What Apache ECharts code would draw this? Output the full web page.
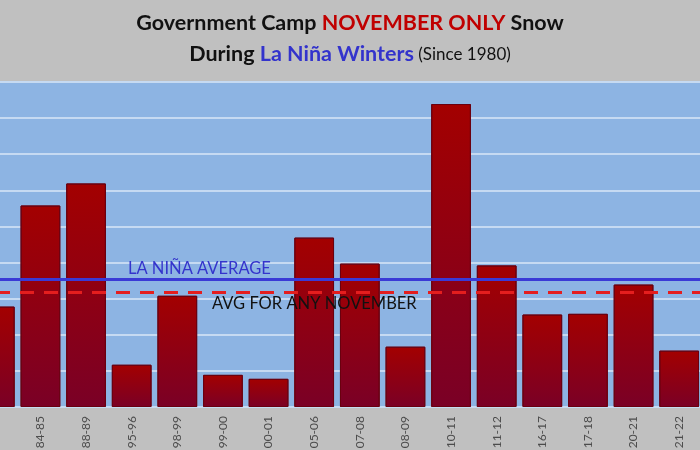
<!DOCTYPE html>
<html><head><meta charset="utf-8">
<script src="https://cdn.jsdelivr.net/npm/echarts@6/dist/echarts.min.js"></script>
<style>html,body{margin:0;padding:0;background:#c0c0c0;overflow:hidden;}#wrap{position:relative;width:700px;height:450px;overflow:hidden;}#c{position:absolute;left:-28px;top:0;width:756px;height:450px;}</style>
</head><body><div id="wrap"><div id="c"></div></div>
<script>
const seasons = ["83-84","84-85","88-89","95-96","98-99","99-00","00-01","05-06","07-08","08-09","10-11","11-12","16-17","17-18","20-21","21-22"];
const novemberSnow = [27.8,55.8,61.9,11.7,30.8,8.9,7.8,46.9,39.7,16.7,83.9,39.2,25.6,25.8,33.9,15.6];
const laNinaAverage = 35.3;
const anyNovemberAverage = 31.7;
const yTicks = {min:0, max:90, interval:10};

const chart = echarts.init(document.getElementById('c'));
const F = 'Lato, "Open Sans", sans-serif';
chart.setOption({
  backgroundColor:'#c0c0c0',
  animation:false,
  title:{
    left:'center', top:3,
    text:'{k|Government Camp }{r|NOVEMBER ONLY}{k| Snow}\n{k|During }{b|La Niña Winters}{s| (Since 1980)}',
    textStyle:{
      fontWeight:'normal',
      rich:{
        k:{fontFamily:F,fontWeight:'bold',fontSize:21.5,color:'#111',lineHeight:31},
        r:{fontFamily:F,fontWeight:'bold',fontSize:21.5,color:'#c00000',lineHeight:31},
        b:{fontFamily:F,fontWeight:'bold',fontSize:21.5,color:'#3333cc',lineHeight:31},
        s:{fontFamily:F,fontWeight:'normal',fontSize:17,color:'#111',lineHeight:31}
      }
    }
  },
  grid:{left:0, right:26, top:82, bottom:43, containLabel:false, outerBoundsMode:'none', show:true, backgroundColor:'#8db4e3', borderWidth:0},
  xAxis:{
    type:'category', data:seasons,
    axisLine:{show:false}, axisTick:{show:false},
    axisLabel:{rotate:90, margin:9, fontFamily:F, fontSize:12, color:'#4c4c4c'}
  },
  yAxis:{
    type:'value', min:yTicks.min, max:yTicks.max, interval:yTicks.interval,
    axisLabel:{show:false}, axisLine:{show:false}, axisTick:{show:false},
    splitLine:{lineStyle:{color:'#c6daf2', width:2}}
  },
  series:[{
    type:'bar', data:novemberSnow, barWidth:'87%',
    itemStyle:{
      color:new echarts.graphic.LinearGradient(0,0,0,1,[{offset:0,color:'#a30000'},{offset:1,color:'#7a0026'}]),
      borderColor:'#6a0010', borderWidth:1
    },
    markLine:{
      silent:true, symbol:'none', z:10,
      label:{show:false},
      data:[
        {yAxis:laNinaAverage, lineStyle:{color:'#3a3ad6', width:3, type:'solid'}},
        {yAxis:anyNovemberAverage, lineStyle:{color:'#e41e1e', width:3, type:[14,10]}}
      ]
    }
  }]
});
const yA = chart.convertToPixel({yAxisIndex:0}, laNinaAverage);
const yB = chart.convertToPixel({yAxisIndex:0}, anyNovemberAverage);
chart.setOption({graphic:[
  {type:'text', left:128+28, top:yA-19, z:20, style:{text:'LA NIÑA AVERAGE', font:'16.5px '+F, fill:'#3434cc'}},
  {type:'text', left:212+28, top:yB+3, z:20, style:{text:'AVG FOR ANY NOVEMBER', font:'16.5px '+F, fill:'#111'}}
]});
</script></body></html>
